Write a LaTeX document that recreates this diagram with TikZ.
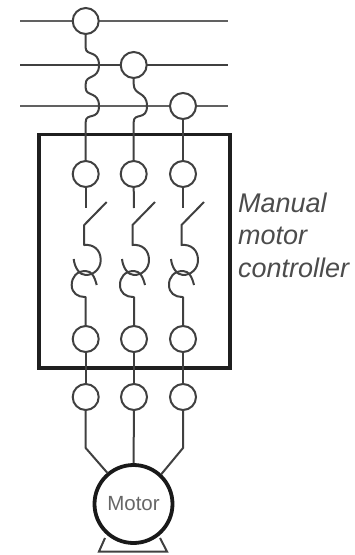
\documentclass[tikz,border=0pt]{standalone}
\usepackage{fontspec}
\setmainfont{Liberation Sans}
\begin{document}
\begin{tikzpicture}[x=1pt,y=-1pt,
  wire/.style={draw=black!75,line width=2pt},
  bus/.style={draw=black!62,line width=2.4pt},
  term/.style={circle,draw=black!75,line width=2pt,fill=white,minimum size=26pt,inner sep=0pt},
  frame/.style={draw=black!88,line width=3.8pt},
  lbl/.style={anchor=base west,inner sep=0pt,font=\fontsize{27}{28}\selectfont\itshape,text=black!70}]
\useasboundingbox (0,0) rectangle (355,555);
% buses
\coordinate (l1) at (20,21); \coordinate (r1) at (228,21);
\coordinate (l2) at (20,65); \coordinate (r2) at (228,65);
\coordinate (l3) at (20,106); \coordinate (r3) at (228,106);
\draw[bus] (l1) -- (r1);
\draw[wire] (l2) -- (r2);
\draw[bus] (l3) -- (r3);
% controller frame
\coordinate (fa) at (39,134.5); \coordinate (fb) at (230,368);
\draw[frame] (fa) rectangle (fb);
% terminals
\node[term] (t1) at (85.7,21) {};
\node[term] (t2) at (133.7,65) {};
\node[term] (t3) at (183,106) {};
\node[term] (a1) at (85.7,174) {};
\node[term] (a2) at (133.7,174) {};
\node[term] (a3) at (183,174) {};
\node[term] (b1) at (85.7,339) {};
\node[term] (b2) at (134,339) {};
\node[term] (b3) at (183,339) {};
\node[term] (c1) at (85.7,397) {};
\node[term] (c2) at (134,397) {};
\node[term] (c3) at (183,397) {};
\draw[wire] (t1.south) -- (85.7,48) .. controls (85.7,56) and (99,50) .. (99,65)
  .. controls (99,80) and (85.7,74) .. (85.7,84) -- (85.7,88)
  .. controls (85.7,97) and (99,91) .. (99,106)
  .. controls (99,121) and (85.7,112) .. (85.7,122) -- (a1.north);
\draw[wire] (t2.south) -- (133.7,84) .. controls (133.7,96) and (147,91) .. (147,106)
  .. controls (147,121) and (133.7,112) .. (133.7,122) -- (a2.north);
\draw[wire] (t3.south) -- (a3.north);
% switches and breakers
\foreach \x/\A/\B in {85.7/a1/b1,134/a2/b2,183/a3/b3}{
  \draw[wire] (\A.south) -- (\x,208);
  \draw[wire,line join=round] (\x+21,202) -- (\x-1.5,225) -- (\x-1.5,245)
    .. controls (\x+8,244) and (\x+15,250) .. (\x+15,260)
    .. controls (\x+15,269) and (\x+8,275) .. (\x,275)
    .. controls (\x-6,275) and (\x-11,268) .. (\x-12,259);
  \draw[wire,line join=round] (\x+11,285)
    .. controls (\x+9,277) and (\x+6,271) .. (\x,271)
    .. controls (\x-9,271) and (\x-14,277) .. (\x-14,285)
    .. controls (\x-14,293) and (\x-8,297) .. (\x-1,297) -- (\x,297) -- (\B.north);
}
% load side
\node[circle,draw=black!90,line width=3.8pt,fill=white,minimum size=78pt,inner sep=0pt,font=\fontsize{20.5}{22}\selectfont,text=black!60] (m) at (133.5,504) {Motor};
\draw[wire] (b1.south) -- (c1.north);
\draw[wire] (b2.south) -- (c2.north);
\draw[wire] (b3.south) -- (c3.north);
\draw[wire] (c1.south) -- (85.7,448) -- (m.130);
\draw[wire] (c2.south) -- (m.north);
\draw[wire] (c3.south) -- (183,448) -- (m.47);
\coordinate (fl) at (105,538); \coordinate (fr) at (160,538);
\draw[wire,line join=miter] (fl) -- (99,551.5) -- (167,551.5) -- (fr);
% label
\node[lbl] (t) at (238,212) {Manual};
\node[lbl] (u) at (238,244.5) {motor};
\node[lbl] (v) at (238,277) {controller};
\end{tikzpicture}
\end{document}
